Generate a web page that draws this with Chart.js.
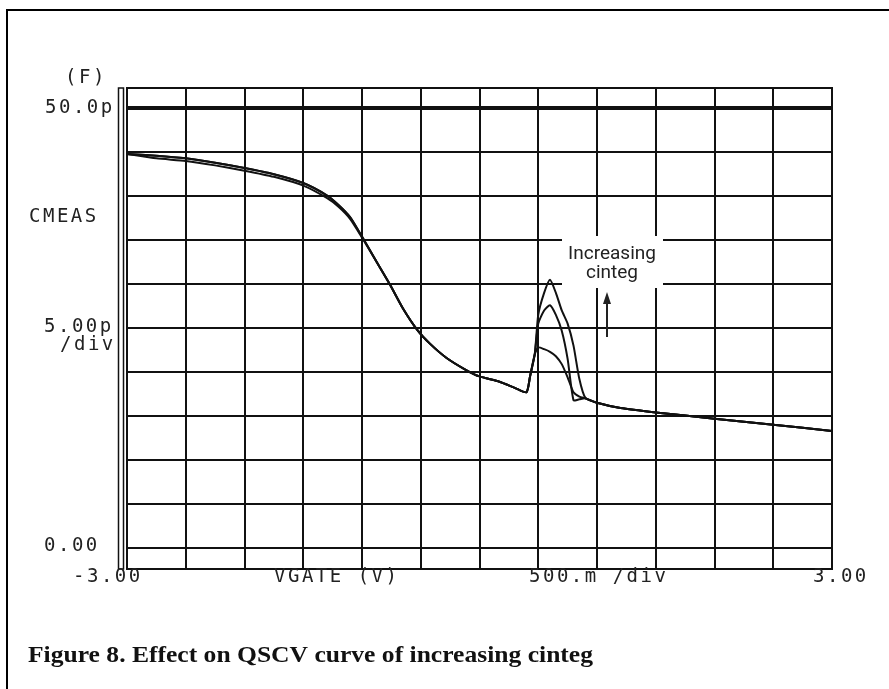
<!DOCTYPE html>
<html>
<head>
<meta charset="utf-8">
<script src="https://cdn.jsdelivr.net/npm/chart.js@4"></script>
<style>
  html, body { margin: 0; padding: 0; background: #fff; }
  canvas { display: block; }
</style>
</head>
<body>
<canvas id="qscvChart" width="889" height="689"></canvas>
<script>
// gate voltage (V) and measured capacitance (pF) for three cinteg settings
const vgate = [-3.0, -2.75, -2.5, -2.25, -2.0, -1.75, -1.5, -1.3, -1.2, -1.1, -1.0, -0.87, -0.76, -0.65, -0.53, -0.42, -0.28, -0.11, 0.0, 0.17, 0.3, 0.4, 0.43, 0.47, 0.5, 0.55, 0.6, 0.65, 0.7, 0.75, 0.8, 0.85, 0.9, 1.0, 1.2, 1.5, 2.0, 2.5, 3.0];
const cmeasLow  = [44.8, 44.6, 44.3, 43.8, 43.2, 42.5, 41.5, 40.1, 39.0, 37.6, 35.4, 32.4, 29.9, 27.2, 24.8, 23.2, 21.6, 20.2, 19.5, 18.9, 18.2, 17.7, 19.5, 22.0, 22.8, 22.6, 22.3, 21.8, 20.9, 19.4, 17.7, 17.2, 17.0, 16.5, 15.9, 15.4, 14.7, 14.0, 13.3];
const cmeasMid  = [44.8, 44.6, 44.3, 43.8, 43.2, 42.5, 41.5, 40.1, 39.0, 37.6, 35.4, 32.4, 29.9, 27.2, 24.8, 23.2, 21.6, 20.2, 19.5, 18.9, 18.2, 17.7, 19.5, 22.0, 25.5, 27.0, 27.6, 26.5, 24.7, 21.5, 16.8, 16.9, 17.0, 16.5, 15.9, 15.4, 14.7, 14.0, 13.3];
const cmeasHigh = [44.8, 44.3, 44.0, 43.5, 42.9, 42.2, 41.2, 39.8, 38.8, 37.4, 35.3, 32.4, 29.9, 27.2, 24.8, 23.2, 21.6, 20.2, 19.5, 18.9, 18.2, 17.7, 19.5, 22.0, 26.5, 29.0, 30.5, 29.0, 27.0, 25.5, 23.0, 19.2, 17.1, 16.5, 15.9, 15.4, 14.7, 14.0, 13.3];
const yTicks = [0, 5, 10, 15, 20, 25, 30, 35, 40, 45, 50];
const xTickStep = 0.5;

const monoFont = '19px "DejaVu Sans Mono", monospace';

const hpFrame = {
    id: 'hpFrame',
    beforeDatasetsDraw(chart) {
        const c = chart.ctx;
        const a = chart.chartArea;
        c.save();
        // outer frame of the figure
        c.strokeStyle = '#000';
        c.lineWidth = 2;
        c.beginPath();
        c.moveTo(7, 689);
        c.lineTo(7, 10);
        c.lineTo(889, 10);
        c.stroke();
        // plot box
        c.strokeStyle = '#111';
        c.strokeRect(a.left, a.top, a.right - a.left, a.bottom - a.top);
        // narrow double bar on the left edge
        c.lineWidth = 1.5;
        c.strokeRect(a.left - 8.5, a.top, 5, a.bottom - a.top);

        // annotation box covering the grid
        c.fillStyle = '#fff';
        c.fillRect(562, 236, 101, 52);
        c.fillStyle = '#222';
        c.font = '19px Roboto, "Liberation Sans", sans-serif';
        c.textAlign = 'center';
        c.textBaseline = 'alphabetic';
        c.fillText('Increasing', 612, 259);
        c.fillText('cinteg', 612, 278);
        // arrow
        c.strokeStyle = '#222';
        c.lineWidth = 2;
        c.beginPath();
        c.moveTo(607, 337);
        c.lineTo(607, 300);
        c.stroke();
        c.beginPath();
        c.moveTo(607, 292);
        c.lineTo(603, 304);
        c.lineTo(611, 304);
        c.closePath();
        c.fill();

        // axis labels in plotter style
        c.font = monoFont;
        c.letterSpacing = '2.5px';
        c.textAlign = 'left';
        c.textBaseline = 'middle';
        c.fillStyle = '#222';
        c.fillText('(F)', 65, 78);
        c.fillText('50.0p', 45, 108);
        c.fillText('CMEAS', 29, 217);
        c.fillText('5.00p', 44, 327);
        c.fillText('/div', 60, 345);
        c.fillText('0.00', 44, 546);
        c.fillText('-3.00', 73, 577);
        c.fillText('VGATE (V)', 274, 577);
        c.fillText('500.m /div', 529, 577);
        c.fillText('3.00', 813, 577);
        c.letterSpacing = '0px';

        // caption
        c.font = 'bold 24px "Liberation Serif", serif';
        c.fillStyle = '#111';
        c.textBaseline = 'alphabetic';
        const cap = 'Figure 8. Effect on QSCV curve of increasing cinteg';
        const w = c.measureText(cap).width;
        c.translate(28, 662);
        c.scale(565 / w, 1);
        c.fillText(cap, 0, 0);
        c.restore();
    }
};

function series(values) {
    return {
        data: vgate.map((v, i) => ({ x: v, y: values[i] })),
        borderColor: '#111',
        borderWidth: 2,
        pointRadius: 0,
        tension: 0.2,
        fill: false
    };
}

const ctx = document.getElementById('qscvChart').getContext('2d');
const qscvChart = new Chart(ctx, {
    type: 'line',
    data: {
        datasets: [series(cmeasLow), series(cmeasMid), series(cmeasHigh)]
    },
    options: {
        responsive: false,
        animation: false,
        layout: { padding: { left: 127, top: 88, right: 57, bottom: 120 } },
        plugins: {
            legend: { display: false },
            tooltip: { enabled: false }
        },
        scales: {
            x: {
                type: 'linear',
                min: -3,
                max: 3,
                ticks: { display: false, stepSize: xTickStep },
                grid: { color: '#111', lineWidth: 2, drawTicks: false },
                border: { display: false }
            },
            y: {
                type: 'linear',
                min: -2.4,
                max: 52.3,
                afterBuildTicks: scale => {
                    scale.ticks = yTicks.map(v => ({ value: v }));
                },
                ticks: { display: false },
                grid: {
                    color: '#111',
                    lineWidth: c => (c.tick && c.tick.value === 50 ? 4 : 2),
                    drawTicks: false
                },
                border: { display: false }
            }
        }
    },
    plugins: [hpFrame]
});
</script>
</body>
</html>
